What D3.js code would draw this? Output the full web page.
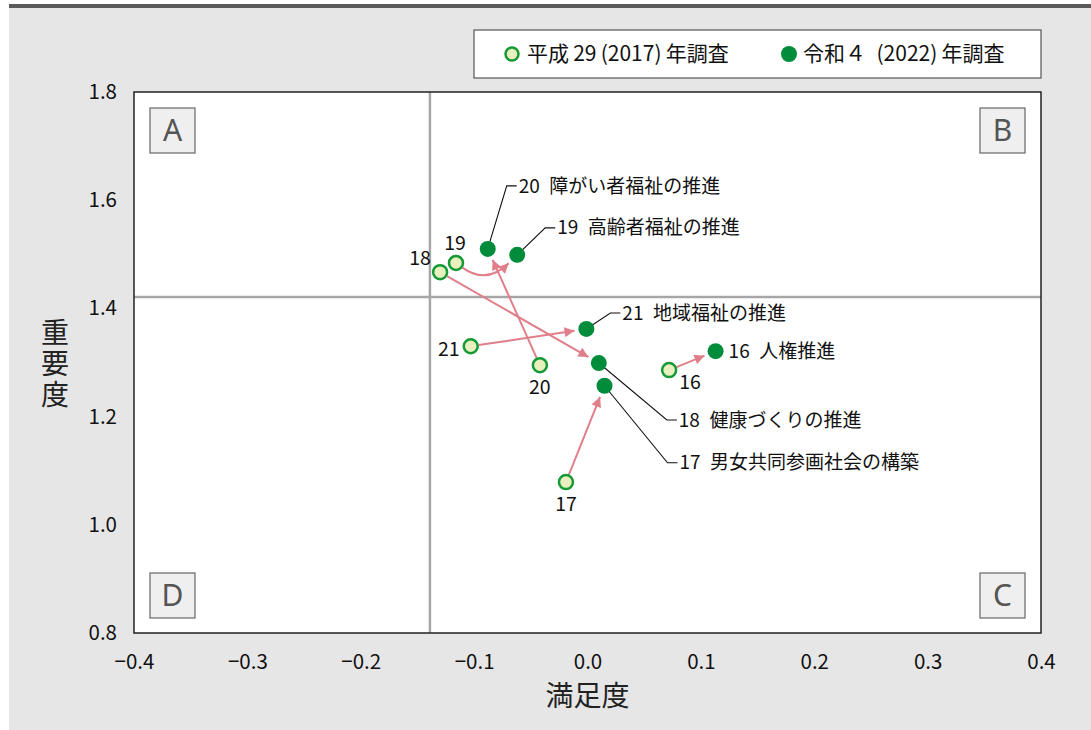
<!DOCTYPE html>
<html><head><meta charset="utf-8">
<script src="https://cdn.jsdelivr.net/npm/d3@7"></script>
<style>
html,body{margin:0;padding:0;background:#fff;}
svg{display:block;font-family:"Noto Sans CJK JP","Noto Sans",sans-serif;}
</style></head>
<body>
<svg id="chart" width="1091" height="730"></svg>
<script>
// ---- data ----
const ids = [16, 17, 18, 19, 20, 21];
const names = ["人権推進", "男女共同参画社会の構築", "健康づくりの推進", "高齢者福祉の推進", "障がい者福祉の推進", "地域福祉の推進"];
const sat2017 = [0.072, -0.019, -0.130, -0.116, -0.042, -0.103];
const imp2017 = [1.286, 1.079, 1.467, 1.484, 1.295, 1.330];
const sat2022 = [0.113, 0.015, 0.010, -0.062, -0.088, -0.001];
const imp2022 = [1.321, 1.257, 1.299, 1.499, 1.510, 1.362];
const xTicks = [-0.4, -0.3, -0.2, -0.1, 0.0, 0.1, 0.2, 0.3, 0.4];
const yTicks = [0.8, 1.0, 1.2, 1.4, 1.6, 1.8];
const meanSat = -0.139;
const meanImp = 1.421;
const quadrants = ["A", "B", "C", "D"];
const legendLabels = ["平成\u200929\u2009(2017)\u2009年調査", "令和４\u2002(2022)\u2009年調査"];
const xTitle = "満足度";
const yTitle = "重要度";

// ---- layout (pixel offsets) ----
const oldLabelOffset = {16: [21, 12], 17: [0, 22], 18: [-20, -14], 19: [-1, -20], 20: [0, 22], 21: [-22, 3]};
const leader = {16: null, 17: [63, 77], 18: [68, 57], 19: [28, -27], 20: [19, -63], 21: [24, -16]};
const arrowBend = {19: 26};

const svg = d3.select("#chart");
const W = 1091, H = 730;
const L = 134, R = 1041, T = 92, B = 633;

// background
svg.append("rect").attr("x", 9).attr("y", 7).attr("width", W - 9).attr("height", H - 7).attr("fill", "#e6e6e6");
svg.append("rect").attr("x", 9).attr("y", 4).attr("width", W - 9).attr("height", 4).attr("fill", "#5a5a5a");

const x = d3.scaleLinear().domain([-0.4, 0.4]).range([L, R]);
const y = d3.scaleLinear().domain([0.8, 1.8]).range([B, T]);

svg.append("rect").attr("x", L).attr("y", T).attr("width", R - L).attr("height", B - T).attr("fill", "#fff");

// reference lines
svg.append("line").attr("x1", x(meanSat)).attr("x2", x(meanSat)).attr("y1", T).attr("y2", B)
  .attr("stroke", "#a6a6a6").attr("stroke-width", 2.5);
svg.append("line").attr("x1", L).attr("x2", R).attr("y1", y(meanImp)).attr("y2", y(meanImp))
  .attr("stroke", "#a6a6a6").attr("stroke-width", 2.5);

svg.append("rect").attr("x", L).attr("y", T).attr("width", R - L).attr("height", B - T)
  .attr("fill", "none").attr("stroke", "#222").attr("stroke-width", 1.5);

// axes
const fmt = d => (d < 0 ? "\u2212" : "") + Math.abs(d).toFixed(1);
const xAxis = svg.append("g").attr("transform", `translate(0,${B})`)
  .call(d3.axisBottom(x).tickValues(xTicks).tickFormat(fmt).tickSize(0).tickPadding(18));
const yAxis = svg.append("g").attr("transform", `translate(${L},0)`)
  .call(d3.axisLeft(y).tickValues(yTicks).tickFormat(d => d.toFixed(1)).tickSize(0).tickPadding(17));
[xAxis, yAxis].forEach(g => {
  g.select(".domain").remove();
  g.selectAll("text").attr("font-size", 20.5).attr("fill", "#111")
    .attr("font-family", "'Noto Sans CJK JP','Noto Sans',sans-serif");
});
xAxis.selectAll("text").attr("dy", "0.9em");

// titles
svg.append("text").attr("x", (L + R) / 2).attr("y", 706).attr("text-anchor", "middle")
  .attr("font-size", 28).attr("fill", "#222").text(xTitle);
svg.append("text").attr("x", 55).attr("y", 318)
  .attr("writing-mode", "vertical-rl").attr("style", "writing-mode:vertical-rl;text-orientation:upright;")
  .attr("letter-spacing", 3)
  .attr("font-size", 28).attr("fill", "#222").text(yTitle);

// quadrant boxes
const qPos = {A: [L + 16, T + 16], B: [R - 16 - 45, T + 16], C: [R - 16 - 45, B - 15 - 45], D: [L + 16, B - 15 - 45]};
quadrants.forEach(q => {
  const [qx, qy] = qPos[q];
  svg.append("rect").attr("x", qx).attr("y", qy).attr("width", 45).attr("height", 45)
    .attr("fill", "#efefef").attr("stroke", "#666").attr("stroke-width", 1.2);
  svg.append("text").attr("x", qx + 22.5).attr("y", qy + 33).attr("text-anchor", "middle")
    .attr("font-size", 30).attr("fill", "#555").attr("font-family", "'Noto Sans','DejaVu Sans',sans-serif").text(q);
});

// arrow marker
const defs = svg.append("defs");
defs.append("marker").attr("id", "ah").attr("viewBox", "0 0 10 10").attr("refX", 10).attr("refY", 5)
  .attr("markerWidth", 11).attr("markerHeight", 10).attr("markerUnits", "userSpaceOnUse").attr("orient", "auto")
  .append("path").attr("d", "M0,0 L10,5 L0,10 Z").attr("fill", "#e07f8a");

const rOld = 7, rNew = 8;
const pts = ids.map((id, i) => ({
  id, name: names[i],
  x0: x(sat2017[i]), y0: y(imp2017[i]), x1: x(sat2022[i]), y1: y(imp2022[i])
}));

// arrows
pts.forEach(p => {
  const dx = p.x1 - p.x0, dy = p.y1 - p.y0, len = Math.hypot(dx, dy);
  const ux = dx / len, uy = dy / len;
  const bend = arrowBend[p.id];
  let d;
  if (bend) {
    const mx = (p.x0 + p.x1) / 2, my = (p.y0 + p.y1) / 2 + bend;
    const sl = Math.hypot(mx - p.x0, my - p.y0);
    const sx = p.x0 + (mx - p.x0) / sl * (rOld + 1), sy = p.y0 + (my - p.y0) / sl * (rOld + 1);
    const el = Math.hypot(p.x1 - mx, p.y1 - my);
    const ex = p.x1 - (p.x1 - mx) / el * 12, ey = p.y1 - (p.y1 - my) / el * 12;
    d = `M${sx},${sy} Q${mx},${my} ${ex},${ey}`;
  } else {
    d = `M${p.x0 + ux * (rOld + 1)},${p.y0 + uy * (rOld + 1)} L${p.x1 - ux * 12},${p.y1 - uy * 12}`;
  }
  svg.append("path").attr("d", d).attr("fill", "none").attr("stroke", "#e07f8a")
    .attr("stroke-width", 2).attr("marker-end", "url(#ah)");
});

// leader lines + labels for 2022
pts.forEach(p => {
  const ld = leader[p.id];
  const label = p.id + "\u2002" + p.name;
  if (ld) {
    const ex = p.x1 + ld[0], ey = p.y1 + ld[1];
    svg.append("polyline").attr("points", `${p.x1},${p.y1} ${ex},${ey} ${ex + 10},${ey}`)
      .attr("fill", "none").attr("stroke", "#111").attr("stroke-width", 1.1);
    svg.append("text").attr("x", ex + 12).attr("y", ey).attr("dy", "0.35em")
      .attr("font-size", 19).attr("fill", "#111").text(label);
  } else {
    svg.append("text").attr("x", p.x1 + 13).attr("y", p.y1).attr("dy", "0.35em")
      .attr("font-size", 19).attr("fill", "#111").text(label);
  }
});

// points
svg.append("g").selectAll("circle").data(pts).join("circle")
  .attr("cx", d => d.x0).attr("cy", d => d.y0).attr("r", rOld)
  .attr("fill", "#e9f0bf").attr("stroke", "#159a35").attr("stroke-width", 2.5);
svg.append("g").selectAll("circle").data(pts).join("circle")
  .attr("cx", d => d.x1).attr("cy", d => d.y1).attr("r", rNew)
  .attr("fill", "#008c3a");

// old labels
pts.forEach(p => {
  const o = oldLabelOffset[p.id];
  svg.append("text").attr("x", p.x0 + o[0]).attr("y", p.y0 + o[1]).attr("dy", "0.35em")
    .attr("text-anchor", "middle").attr("font-size", 19.5).attr("fill", "#111").text(p.id);
});

// legend
svg.append("rect").attr("x", 474).attr("y", 30).attr("width", 567).attr("height", 48)
  .attr("fill", "#fff").attr("stroke", "#555").attr("stroke-width", 1.2);
svg.append("circle").attr("cx", 512).attr("cy", 54).attr("r", 6.5)
  .attr("fill", "#e9f0bf").attr("stroke", "#159a35").attr("stroke-width", 2.5);
svg.append("text").attr("x", 527).attr("y", 54).attr("dy", "0.35em").attr("font-size", 21).attr("fill", "#111").text(legendLabels[0]);
svg.append("circle").attr("cx", 789).attr("cy", 54).attr("r", 8).attr("fill", "#008c3a");
svg.append("text").attr("x", 803).attr("y", 54).attr("dy", "0.35em").attr("font-size", 21).attr("fill", "#111").text(legendLabels[1]);
</script>
</body></html>
